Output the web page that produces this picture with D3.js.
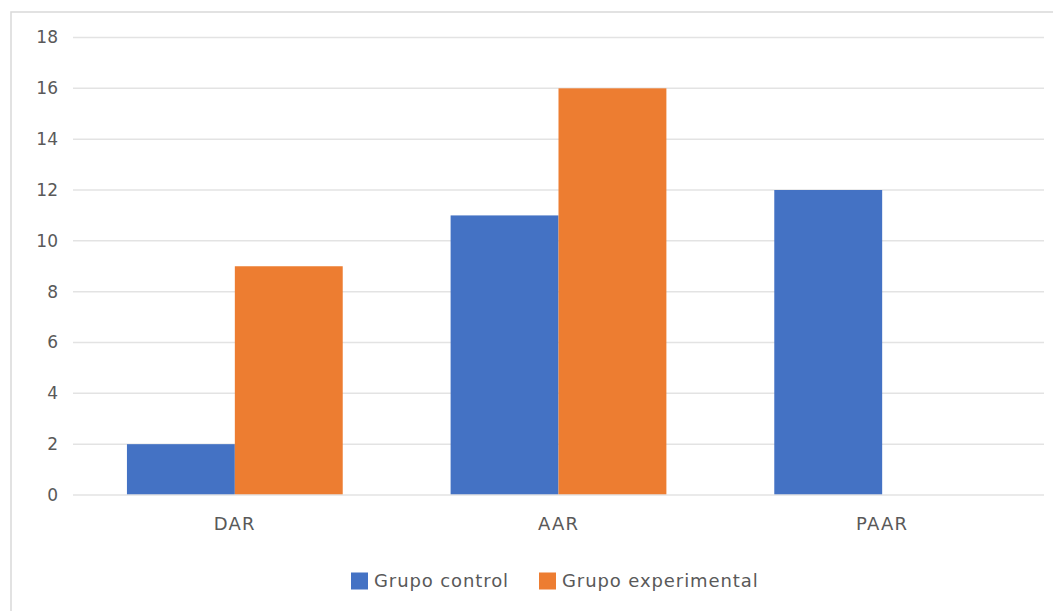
<!DOCTYPE html>
<html>
<head>
<meta charset="utf-8">
<script src="https://cdn.jsdelivr.net/npm/d3@7"></script>
<style>
  html, body { margin: 0; padding: 0; background: #fff; }
  svg { display: block; font-family: "DejaVu Sans", sans-serif; }
</style>
</head>
<body>
<svg id="chart" width="1053" height="611"></svg>
<script>
// Categories and series values
const categories = ["DAR", "AAR", "PAAR"];
const seriesNames = ["Grupo control", "Grupo experimental"];
const grupoControl = [2, 11, 12];
const grupoExperimental = [9, 16, 0];
const yTicks = [0, 2, 4, 6, 8, 10, 12, 14, 16, 18];
const colors = ["#4472C4", "#ED7D31"];

const seriesValues = [grupoControl, grupoExperimental];
const svg = d3.select("#chart");
const labelFont = "'DejaVu Sans', sans-serif";
const labelColor = "#595959";

// Outer chart frame (extends past right and bottom edges)
svg.append("rect")
  .attr("x", 11).attr("y", 12)
  .attr("width", 1100).attr("height", 700)
  .attr("fill", "#fff")
  .attr("stroke", "#d9d9d9").attr("stroke-width", 1.5);

const plot = { left: 73, right: 1044, top: 37.5, bottom: 495 };

const x = d3.scaleBand()
  .domain(categories)
  .range([plot.left, plot.right])
  .paddingInner(1 / 3)
  .paddingOuter(1 / 6);

const xInner = d3.scaleBand()
  .domain(seriesNames)
  .range([0, x.bandwidth()]);

const y = d3.scaleLinear()
  .domain([0, 18])
  .range([plot.bottom, plot.top]);

// Horizontal gridlines
svg.append("g")
  .selectAll("line")
  .data(yTicks.filter(t => t > 0))
  .join("line")
  .attr("x1", plot.left).attr("x2", plot.right)
  .attr("y1", d => y(d)).attr("y2", d => y(d))
  .attr("stroke", "#e3e3e3").attr("stroke-width", 1.5);

// Y axis labels
const yAxis = d3.axisLeft(y).tickValues(yTicks).tickSize(0).tickPadding(0);
svg.append("g")
  .attr("transform", `translate(${plot.left - 15},0)`)
  .call(yAxis)
  .call(g => g.select(".domain").remove())
  .call(g => g.selectAll("text")
    .attr("fill", labelColor)
    .attr("font-size", 17)
    .attr("font-family", labelFont));

// Bars
const groups = svg.append("g")
  .selectAll("g")
  .data(categories)
  .join("g")
  .attr("transform", d => `translate(${x(d)},0)`);

groups.selectAll("rect")
  .data((c, i) => seriesNames.map((s, j) => ({ s, j, v: seriesValues[j][i] })))
  .join("rect")
  .attr("x", d => xInner(d.s))
  .attr("width", xInner.bandwidth())
  .attr("y", d => y(d.v))
  .attr("height", d => y(0) - y(d.v))
  .attr("fill", d => colors[d.j]);

// Baseline
svg.append("line")
  .attr("x1", plot.left).attr("x2", plot.right)
  .attr("y1", y(0)).attr("y2", y(0))
  .attr("stroke", "#e3e3e3").attr("stroke-width", 1.5);

// X axis labels
const xAxis = d3.axisBottom(x).tickSize(0).tickPadding(0);
svg.append("g")
  .attr("transform", `translate(0,${plot.bottom + 22})`)
  .call(xAxis)
  .call(g => g.select(".domain").remove())
  .call(g => g.selectAll("text")
    .attr("fill", labelColor)
    .attr("font-size", 18)
    .attr("letter-spacing", 1.2)
    .attr("font-family", labelFont));

// Legend
const legendItems = [
  { name: seriesNames[0], color: colors[0], x: 351 },
  { name: seriesNames[1], color: colors[1], x: 539 }
];
const legend = svg.append("g").attr("transform", "translate(0,581)");
legendItems.forEach(item => {
  legend.append("rect")
    .attr("x", item.x).attr("y", -8.5)
    .attr("width", 17).attr("height", 17)
    .attr("fill", item.color);
  legend.append("text")
    .attr("x", item.x + 23).attr("y", 0)
    .attr("dy", "0.35em")
    .attr("fill", labelColor)
    .attr("font-size", 18)
    .attr("letter-spacing", 0.9)
    .attr("font-family", labelFont)
    .text(item.name);
});
</script>
</body>
</html>
